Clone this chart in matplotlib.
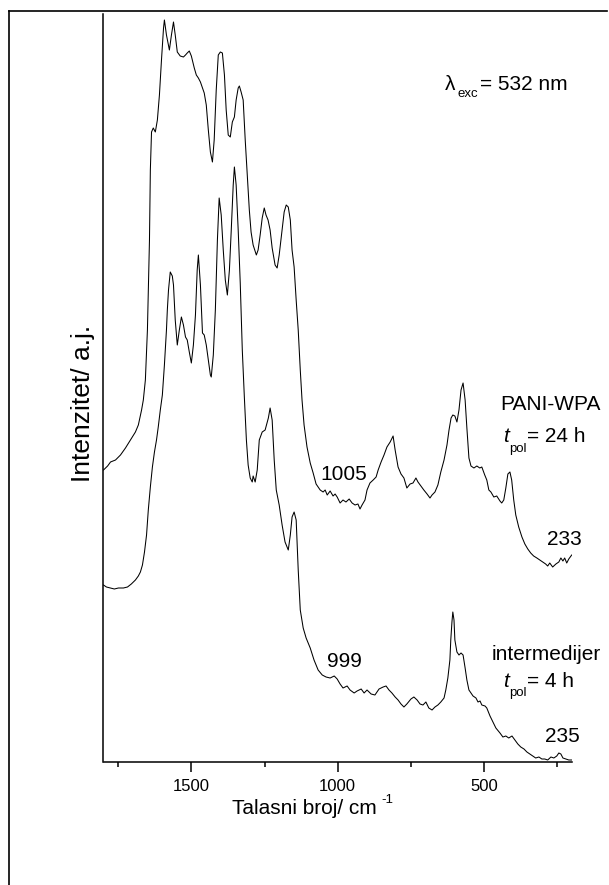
import numpy as np
import matplotlib.pyplot as plt
from matplotlib.lines import Line2D
from matplotlib.ticker import MultipleLocator

plt.rcParams['font.family'] = ['Liberation Sans', 'DejaVu Sans']

# PANI-WPA, t_pol = 24 h  (wavenumber / cm-1, intensity / a.u.)
wn_24h = [1800, 1786, 1776, 1759, 1742, 1725, 1708, 1691, 1681, 1670, 1664, 1657, 1650, 1643, 1640,
          1636, 1630, 1623, 1616, 1609, 1602, 1595, 1592, 1585, 1575, 1568, 1561, 1555, 1548, 1538,
          1527, 1520, 1514, 1507, 1500, 1490, 1483, 1476, 1469, 1462, 1456, 1449, 1442, 1435, 1428,
          1422, 1415, 1408, 1401, 1394, 1387, 1381, 1374, 1367, 1360, 1353, 1347, 1340, 1336, 1330,
          1323, 1316, 1309, 1302, 1296, 1289, 1278, 1272, 1265, 1258, 1251, 1245, 1238, 1231, 1224,
          1214, 1207, 1200, 1190, 1183, 1176, 1169, 1162, 1156, 1149, 1142, 1135, 1128, 1122, 1115,
          1105, 1094, 1084, 1074, 1060, 1050, 1043, 1036, 1026, 1016, 1009, 1002, 992, 982, 972,
          961, 951, 941, 931, 924, 917, 907, 900, 890, 879, 869, 862, 852, 842, 832,
          821, 811, 804, 794, 784, 774, 764, 753, 743, 733, 726, 716, 706, 695, 685,
          678, 668, 658, 648, 637, 627, 620, 613, 607, 600, 593, 586, 579, 572, 565,
          559, 552, 545, 535, 525, 515, 508, 498, 491, 484, 477, 467, 457, 446, 440,
          433, 426, 419, 412, 406, 399, 392, 382, 371, 361, 351, 341, 331, 320, 310,
          300, 290, 283, 276, 266, 255, 245, 238, 231, 225, 218, 211, 201]
int_24h = [292, 296, 300, 302, 307, 314, 322, 330, 337, 352, 362, 382, 432, 522, 592,
           630, 634, 630, 642, 667, 702, 734, 742, 727, 712, 727, 740, 727, 710, 706,
           705, 707, 709, 711, 706, 694, 687, 684, 680, 674, 669, 657, 632, 610, 600,
           622, 672, 707, 710, 709, 687, 652, 627, 625, 640, 645, 662, 674, 676, 670,
           662, 622, 587, 552, 530, 517, 507, 512, 527, 544, 554, 547, 542, 532, 514,
           497, 494, 507, 532, 550, 557, 555, 542, 512, 495, 462, 432, 392, 362, 337,
           315, 299, 289, 278, 272, 270, 272, 267, 271, 266, 268, 265, 259, 262, 260,
           263, 259, 257, 258, 253, 257, 262, 272, 279, 282, 285, 292, 300, 307, 315,
           320, 326, 312, 295, 288, 284, 274, 278, 279, 284, 280, 276, 272, 268, 264,
           267, 270, 277, 290, 302, 317, 332, 344, 347, 346, 340, 352, 372, 379, 362,
           334, 304, 296, 294, 296, 294, 295, 287, 282, 272, 270, 265, 266, 261, 259,
           262, 274, 288, 290, 282, 262, 247, 235, 225, 218, 213, 209, 206, 204, 202,
           200, 198, 196, 199, 195, 198, 200, 204, 201, 204, 199, 203, 207]

# intermedijer, t_pol = 4 h
wn_4h = [1800, 1790, 1776, 1763, 1749, 1732, 1718, 1705, 1691, 1681, 1674, 1667, 1660, 1653, 1647,
         1640, 1633, 1626, 1619, 1613, 1606, 1599, 1592, 1585, 1582, 1578, 1572, 1565, 1561, 1555,
         1548, 1541, 1534, 1527, 1520, 1514, 1507, 1500, 1493, 1486, 1480, 1476, 1469, 1462, 1456,
         1449, 1442, 1435, 1432, 1425, 1418, 1411, 1405, 1398, 1391, 1384, 1377, 1370, 1364, 1357,
         1353, 1347, 1340, 1333, 1326, 1319, 1312, 1306, 1299, 1292, 1289, 1282, 1275, 1268, 1258,
         1248, 1237, 1231, 1224, 1217, 1210, 1200, 1190, 1180, 1169, 1162, 1156, 1149, 1142, 1135,
         1128, 1118, 1108, 1094, 1081, 1067, 1053, 1040, 1026, 1012, 1002, 992, 982, 968, 958,
         944, 934, 920, 910, 900, 886, 873, 859, 845, 835, 825, 815, 804, 794, 784,
         774, 764, 750, 740, 729, 719, 709, 699, 689, 678, 668, 658, 648, 637, 631,
         624, 617, 614, 610, 607, 603, 600, 593, 586, 579, 572, 565, 559, 552, 545,
         538, 528, 521, 514, 508, 497, 491, 480, 470, 460, 446, 436, 426, 416, 405,
         395, 385, 375, 364, 354, 344, 334, 324, 313, 303, 293, 283, 272, 262, 252,
         245, 238, 231, 221, 211, 201]
int_4h = [177, 175, 174, 173, 174, 174, 175, 178, 182, 186, 190, 197, 210, 227, 252,
          275, 295, 310, 322, 335, 352, 367, 397, 432, 452, 472, 490, 486, 477, 442,
          417, 432, 445, 437, 425, 422, 410, 399, 417, 447, 492, 507, 477, 429, 427,
          417, 402, 387, 385, 407, 452, 522, 564, 547, 512, 482, 467, 492, 530, 577,
          595, 577, 532, 479, 412, 365, 322, 297, 284, 280, 286, 280, 292, 322, 330,
          332, 344, 354, 342, 302, 272, 257, 237, 220, 212, 227, 245, 250, 242, 192,
          152, 134, 124, 114, 102, 92, 87, 85, 84, 86, 83, 78, 74, 76, 72,
          69, 71, 73, 69, 72, 68, 67, 73, 75, 76, 72, 69, 65, 62, 58,
          55, 58, 63, 65, 62, 58, 57, 60, 54, 52, 55, 57, 60, 64, 72,
          84, 102, 122, 140, 150, 142, 122, 110, 107, 109, 107, 94, 82, 72, 69,
          66, 64, 60, 61, 57, 56, 54, 46, 40, 34, 29, 25, 26, 24, 26,
          22, 18, 15, 13, 10, 8, 6, 4, 5, 3, 3, 2, 5, 4, 6,
          9, 8, 4, 3, 2, 2]

W, H = 609, 885
fig = plt.figure(figsize=(W / 100, H / 100), dpi=100)
ax = fig.add_axes([103.5 / W, 1 - 762 / H, (572 - 103.5) / W, (762 - 14) / H])

ax.plot(wn_24h, int_24h, color='black', lw=0.75)
ax.plot(wn_4h, int_4h, color='black', lw=0.75)

ax.set_xlim(1800, 200)
ax.set_ylim(0, 748)
ax.xaxis.set_major_locator(MultipleLocator(500))
ax.xaxis.set_minor_locator(MultipleLocator(250))
ax.set_yticks([])
for s in ['top', 'right']:
    ax.spines[s].set_visible(False)
for s in ['left', 'bottom']:
    ax.spines[s].set_linewidth(1.1)
ax.tick_params(axis='x', which='major', direction='out', length=7, width=1.1, labelsize=12, pad=5)
ax.tick_params(axis='x', which='minor', direction='out', length=3.5, width=1.1)

ax.set_xlabel('Talasni broj/ cm', fontsize=15, ha='left')
ax.xaxis.set_label_coords((232 - 103.5) / 468.5, -0.05)
ax.set_ylabel('Intenzitet/ a.j.', fontsize=19)
ax.yaxis.set_label_coords(-0.018, 0.48)


def label(x, y, s, size=15, **kw):
    fig.text(x / W, 1 - y / H, s, fontsize=size, ha='left', va='baseline', **kw)


label(381, 803, '-1', size=9.5)

label(445, 90, 'λ')
label(457, 97, 'exc', size=9.5)
label(480, 90, '= 532 nm')

label(320, 480, '1005')
label(500, 410, 'PANI-WPA')
label(503, 442, 't', style='italic')
label(509, 452, 'pol', size=9.5)
label(527, 442, '= 24 h')
label(547, 545, '233')

label(327, 667, '999')
label(492, 660, 'intermedijer')
label(503, 687, 't', style='italic')
label(509, 696, 'pol', size=9.5)
label(527, 687, '= 4 h')
label(545, 742, '235')

# outer frame
fig.add_artist(Line2D([9 / W, 9 / W], [0, 1 - 11 / H], color='black', lw=1.2))
fig.add_artist(Line2D([9 / W, 607 / W], [1 - 11 / H, 1 - 11 / H], color='black', lw=1.2))

fig.savefig('out.png', dpi=100)
